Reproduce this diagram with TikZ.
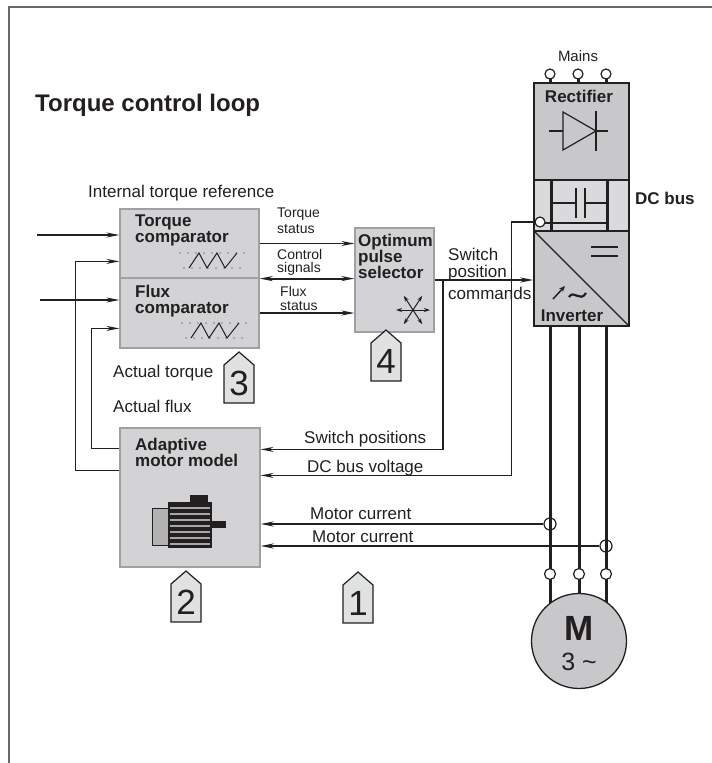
\documentclass[tikz,border=0pt]{standalone}
\usepackage{fontspec}
\setmainfont{Liberation Sans}
\usetikzlibrary{arrows.meta,positioning,calc}
\definecolor{ink}{RGB}{35,31,32}
\definecolor{boxfill}{RGB}{211,211,213}
\definecolor{boxline}{RGB}{160,160,162}
\definecolor{convfill}{RGB}{200,200,202}
\definecolor{busfill}{RGB}{218,218,220}
\definecolor{tagfill}{RGB}{224,225,225}
\definecolor{frame}{RGB}{105,105,105}

\tikzset{
  blk/.style={draw=boxline, fill=boxfill, line width=1.2pt, inner sep=0pt},
  conv/.style={draw=ink, fill=convfill, line width=1.2pt, inner sep=0pt, minimum width=95pt},
  ttl/.style={font=\bfseries\fontsize{17}{16}\selectfont, align=left, inner sep=0pt, anchor=north west, text=ink},
  lbl/.style={font=\fontsize{17}{17}\selectfont, inner sep=0pt, anchor=base west, text=ink},
  sml/.style={font=\fontsize{14}{#1}\selectfont, align=left, inner sep=0pt, anchor=north west, text=ink},
  sig/.style={draw=ink, line width=1.3pt, -{Stealth[length=13pt,width=5pt]}},
  phase/.style={draw=ink, line width=3pt},
  term/.style={circle, draw=ink, fill=white, line width=1.2pt, inner sep=0pt, minimum size=9pt},
  sense/.style={circle, draw=ink, line width=1.2pt, inner sep=0pt, minimum size=12pt},
  tagnum/.style={font=\fontsize{35}{35}\selectfont, inner sep=0pt, text=ink},
  saw/.pic={
    \draw[ink, line width=1.3pt, line cap=round, dash pattern=on 0pt off 8pt] (0,0) -- (66,0) (4,15) -- (66,15);
    \draw[ink, line width=1pt] (9,15) -- (19,0) -- (27,15) -- (37,0) -- (45,15) -- (57,0);
  }
}

% number tag: x, apex y, digit
\newcommand{\numtag}[3]{%
  \draw[ink, fill=tagfill, line width=1.2pt] (#1-15,#2+51) -- (#1-15,#2+13) -- (#1,#2) -- (#1+15,#2+13) -- (#1+15,#2+51) -- cycle;
  \node[tagnum] (tag#3) at (#1,#2+31) {#3};}

\begin{document}
\begin{tikzpicture}[x=1pt,y=-1pt]
  \useasboundingbox (0,0) rectangle (712,763);
  \draw[frame, line width=2pt] (9,763) -- (9,7) -- (712,7);

  \node[font=\bfseries\fontsize{24}{24}\selectfont, anchor=base west, inner sep=0pt, text=ink] (title) at (35,111) {Torque control loop};
  \node[lbl] (tref) at (88,197) {Internal torque reference};

  % comparators
  \node[blk, minimum width=139pt, minimum height=69pt] (tc) at (189.5,243.5) {};
  \node[blk, minimum width=139pt, minimum height=70pt] (fc) at (189.5,313) {};
  \node[ttl] (tct) at (135,215) {Torque\\comparator};
  \node[ttl] (fct) at (135,285) {Flux\\comparator};
  \pic at (180,253) {saw};
  \pic at (182,323) {saw};

  % pulse selector
  \node[blk, minimum width=79pt, minimum height=104pt] (ops) at (394.5,280) {};
  \node[ttl] (opst) at (358,234) {Optimum\\pulse\\selector};
  \foreach \a in {0,57,123}
    \draw[ink, line width=1pt, {Stealth[length=6pt,width=4pt]}-{Stealth[length=6pt,width=4pt]}]
      ($(413,310)+(\a:17)$) -- ($(413,310)+(\a+180:17)$);

  % motor model
  \node[blk, minimum width=140pt, minimum height=139pt] (mm) at (190,497.5) {};
  \node[ttl] (mmt) at (135,438) {Adaptive\\motor model};
  \draw[ink, fill=gray!60, line width=1pt] (152,508) rectangle (168,545);
  \fill[ink] (168,502) rectangle (212,548);
  \foreach \y in {508,514,...,544}
    \draw[gray!70, line width=1.2pt] (170,\y) -- (210,\y);
  \fill[ink] (190,495) rectangle (208,502);
  \fill[ink] (212,521) rectangle (226,528);

  % comparator signals
  \coordinate (tqref) at (37,235);
  \coordinate (flref) at (40,300);
  \draw[sig] (tqref) -- (tqref -| tc.west);
  \draw[sig] (flref) -- (flref -| fc.west);
  \draw[sig] ($(mm.north west)+(0,43)$) -- ++(-44,0) |- ($(tc.north west)+(0,53)$);
  \draw[sig] ($(mm.north west)+(0,21)$) -- ++(-28,0) |- ($(fc.north west)+(0,51)$);
  \draw[sig] (tc.east) -- (tc.east -| ops.west);
  \draw[sig, line width=2pt, {Stealth[length=13pt,width=5pt]}-{Stealth[length=13pt,width=5pt]}] (tc.south east) -- (tc.south east -| ops.west);
  \draw[sig] (fc.east) -- (fc.east -| ops.west);
  \node[sml=16] (tsl) at (277,208) {Torque\\status};
  \node[sml=13] (csl) at (277,249.5) {Control\\signals};
  \node[sml=14] (fsl) at (280,286.5) {Flux\\status};

  % converter
  \node[conv, minimum height=97pt] (rect) at (581.5,131.5) {};
  \node[conv, fill=busfill, minimum height=51pt] (bus) at (581.5,205.5) {};
  \node[conv, minimum height=95pt] (inv) at (581.5,278.5) {};
  \node[font=\bfseries\fontsize{17}{17}\selectfont, anchor=base, inner sep=0pt, text=ink] (rectt) at (579,102) {Rectifier};
  \draw[ink, line width=1.2pt] (549,131) -- (563,131) (596,131) -- (608,131) (596,111) -- (596,151);
  \draw[ink, line width=1.2pt] (563,112) -- (596,131) -- (563,150) -- cycle;
  \draw[phase] (551,180) -- (551,231) (607,180) -- (607,231);
  \draw[ink, line width=1.2pt] (551,203) -- (576,203) (585,203) -- (607,203)
    (576,188) -- (576,218) (585,188) -- (585,218) (545,223) -- (607,223);
  \node[sense, minimum size=10pt, fill=white] (dcc) at (540,222) {};
  \node[font=\bfseries\fontsize{17}{17}\selectfont, anchor=base west, inner sep=0pt, text=ink] (bust) at (635,204) {DC bus};
  \draw[ink, line width=1.2pt] (inv.north west) -- (inv.south east);
  \draw[ink, line width=1.2pt] (591,247) -- (618,247) (591,256) -- (618,256);
  \draw[ink, line width=1.5pt, -{Stealth[length=6pt,width=5pt]}] (553,299) -- (565,286);
  \draw[ink, line width=2.2pt] (569,297) .. controls (574,289) and (580,303) .. (586,293);
  \node[font=\bfseries\fontsize{17}{17}\selectfont, anchor=base, inner sep=0pt, text=ink] (invt) at (572,321) {Inverter};

  % mains
  \node[font=\fontsize{15}{15}\selectfont, anchor=base, inner sep=0pt, text=ink] (mains) at (578,61) {Mains};
  \foreach \x in {550,578,606} {
    \draw[phase] (\x,76) -- (\x,83);
    \node[term, minimum size=10pt] (m\x) at (\x,74) {};
  }

  % selector to inverter
  \coordinate (swb) at (443,280);
  \draw[sig, line width=2pt] (ops.east) -- (ops.east -| inv.west);
  \node[lbl] (swl) at (448,260) {Switch};
  \node[lbl] (pol) at (448,277) {position};
  \node[lbl] (cml) at (448,299) {commands};

  % feedback to motor model
  \draw[sig] (swb) |- ($(mm.north east)+(0,22)$);
  \draw[sig] (dcc.west) -- ++(-23,0) |- ($(mm.north east)+(0,48)$);
  \node[lbl] (spl) at (304,443) {Switch positions};
  \node[lbl] (dcl) at (307,472) {DC bus voltage};

  % motor and phases
  \foreach \x in {550,579,606}
    \draw[phase] (inv.south -| \x,0) -- (\x,625);
  \node[sense] (ct1) at (550,524) {};
  \node[sense] (ct2) at (606,546) {};
  \draw[sig, line width=2pt] (ct1.west) -- (ct1.west -| mm.east);
  \draw[sig, line width=2pt] (ct2.west) -- (ct2.west -| mm.east);
  \node[lbl] (mc1) at (310,519) {Motor current};
  \node[lbl] (mc2) at (312,542) {Motor current};
  \foreach \x in {550,579,606}
    \node[term, minimum size=11pt] (t\x) at (\x,574) {};
  \node[circle, draw=ink, fill=convfill, line width=1.3pt, minimum size=95pt] (mot) at (579,641) {};
  \node[font=\bfseries\fontsize{35}{35}\selectfont, anchor=base, inner sep=0pt, text=ink] (mott) at (579,640) {M};
  \node[font=\fontsize{25}{25}\selectfont, anchor=base, inner sep=0pt, text=ink] (motp) at (579,670) {3 \textasciitilde};

  \node[lbl] (atq) at (113,377) {Actual torque};
  \node[lbl] (afx) at (113,412) {Actual flux};

  \numtag{239}{352}{3}
  \numtag{386}{330}{4}
  \numtag{186}{571}{2}
  \numtag{358}{572}{1}
\end{tikzpicture}
\end{document}
